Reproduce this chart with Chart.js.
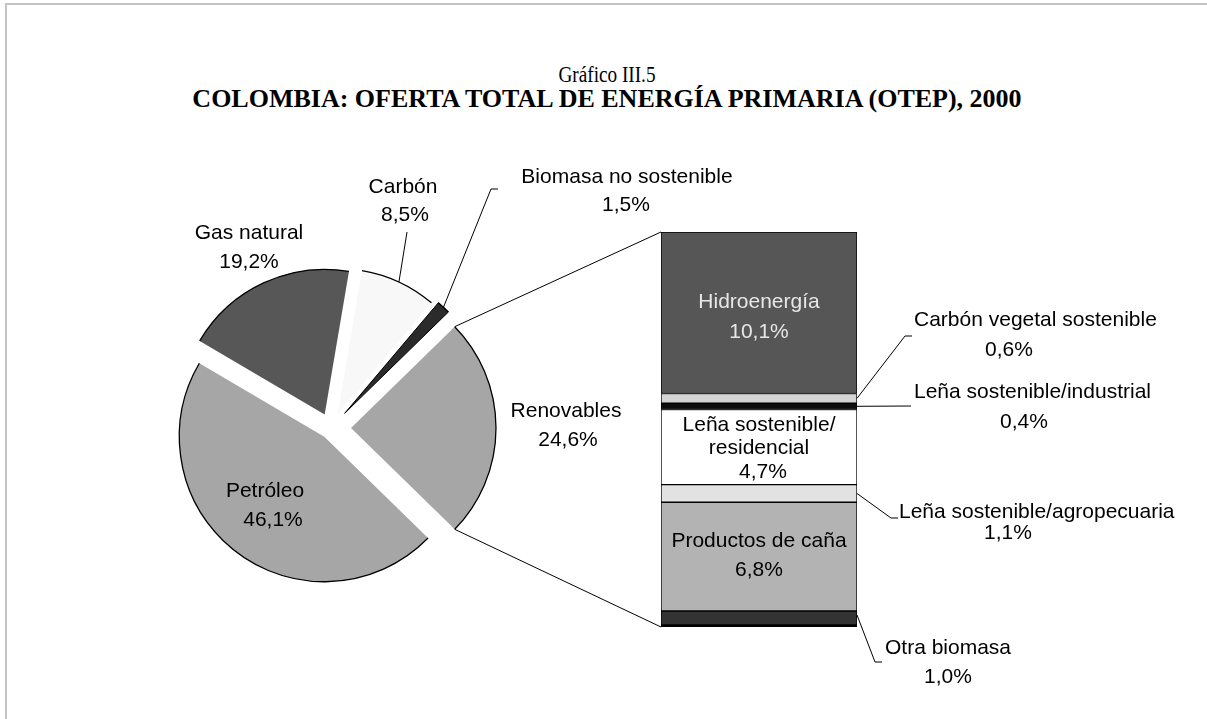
<!DOCTYPE html>
<html lang="es">
<head>
    <meta charset="UTF-8" />
    <title>Gráfico III.5 - Colombia: oferta total de energía primaria, 2000</title>
    <script src="https://cdn.jsdelivr.net/npm/chart.js"></script>
    <style>
        * {
            box-sizing: border-box;
            margin: 0;
            padding: 0;
        }
        body {
            width: 1207px;
            height: 719px;
            overflow: hidden;
            position: relative;
            background: #fff;
            color: #000;
            font-family: "Liberation Serif", "Times New Roman", serif;
        }
        .frame {
            position: absolute;
            left: 5px;
            top: 3px;
            width: 1400px;
            height: 900px;
            border-top: 2px solid #c4c4c4;
            border-left: 2px solid #c4c4c4;
        }
        .title {
            position: absolute;
            left: 0;
            width: 1214px;
            text-align: center;
            white-space: nowrap;
            line-height: 1;
        }
        #t1 { top: 62px; font-size: 24px; transform: scaleX(0.8); }
        #t2 { top: 86px; font-size: 26px; font-weight: bold; }
        canvas {
            position: absolute;
            left: 0;
            top: 0;
        }
    </style>
</head>
<body>
    <div class="frame"></div>
    <div class="title" id="t1">Gráfico III.5</div>
    <div class="title" id="t2">COLOMBIA: OFERTA TOTAL DE ENERGÍA PRIMARIA (OTEP), 2000</div>

    <canvas id="pie" width="1207" height="719"></canvas>
    <canvas id="bar" width="1207" height="719"></canvas>

    <script>
        // oferta total (%), pie slices clockwise starting with the split-out slice
        const pieLabels = ['Renovables', 'Petróleo', 'Gas natural', 'Carbón', 'Biomasa no sostenible'];
        const pieValues = [24.6, 46.1, 19.2, 8.5, 1.5];

        // desglose de renovables (%), top to bottom of the bar
        const renLabels = ['Hidroenergía', 'Carbón vegetal sostenible', 'Leña sostenible/industrial',
            'Leña sostenible/residencial', 'Leña sostenible/agropecuaria', 'Productos de caña', 'Otra biomasa'];
        const renValues = [10.1, 0.6, 0.4, 4.7, 1.1, 6.8, 1.0];

        // styles
        const pieColors = ['#a6a6a6', '#a6a6a6', '#575757', '#f8f8f8', '#2b2b2b'];
        const pieExplode = [20, 11, 15, 16, 20];   // px each slice is pulled out
        const PIE_R = 145;
        const barColors = ['#565656', '#d4d4d4', '#0d0d0d', '#ffffff', '#e2e2e2', '#b3b3b3', '#333333'];
        const FONT = '21px "Liberation Sans", Arial, sans-serif';

        // label placement (name line, value line, optional leader elbow)
        const pieLabelPos = [
            { name: [566, 411], pct: [568, 440] },
            { name: [265, 491], pct: [273, 520] },
            { name: [249, 233], pct: [249, 262] },
            { name: [403, 187], pct: [405, 215], leader: [[407, 232]] },
            { name: [627, 177], pct: [626, 205], leader: [[491, 189], [498, 189]] }
        ];
        const barLabelPos = [
            { lines: [[759, 302], [759, 332]], color: '#e6e6e6' },
            { name: [914, 320], pct: [1009, 350], leader: [[905, 336], [912, 336]] },
            { name: [914, 392], pct: [1024, 422], leader: [[911, 406]] },
            { lines: [[759, 425], [759, 448], [763, 472]], split: ['Leña sostenible/', 'residencial'] },
            { name: [899, 512], pct: [1008, 533], leader: [[891, 518], [898, 518]] },
            { lines: [[759, 541], [759, 570]] },
            { name: [885, 648], pct: [948, 677], leader: [[875, 662], [882, 662]], fromY: 0.75 }
        ];

        const pct = v => v.toFixed(1).replace('.', ',') + '%';

        function text(ctx, s, x, y, align, color) {
            ctx.fillStyle = color || '#000';
            ctx.textAlign = align || 'center';
            ctx.textBaseline = 'middle';
            ctx.fillText(s, x, y);
        }

        function polyline(ctx, pts) {
            ctx.beginPath();
            ctx.moveTo(pts[0][0], pts[0][1]);
            pts.slice(1).forEach(p => ctx.lineTo(p[0], p[1]));
            ctx.stroke();
        }

        // point on the outer edge of an exploded slice
        function slicePoint(el, i, angle) {
            const a0 = el.$a0 ?? el.startAngle, a1 = el.$a1 ?? el.endAngle;
            const mid = (a0 + a1) / 2;
            return [
                el.x + Math.cos(mid) * pieExplode[i] + Math.cos(angle) * PIE_R,
                el.y + Math.sin(mid) * pieExplode[i] + Math.sin(angle) * PIE_R
            ];
        }

        // keep exploded slices at the same radius and angle as the unexploded pie
        const explodeFix = {
            id: 'explodeFix',
            beforeDatasetsDraw(chart) {
                chart.getDatasetMeta(0).data.forEach(el => {
                    if (el.$a0 === undefined) { el.$a0 = el.startAngle; el.$a1 = el.endAngle; }
                    const t = (el.options.offset || 0) / 4;
                    const ro = t * (1 - Math.sin(Math.min(Math.PI, el.circumference)));
                    const d = ro / Math.PI / PIE_R / 2;
                    el.outerRadius = PIE_R - ro;
                    el.startAngle = el.$a0 - d;
                    el.endAngle = el.$a1 + d;
                });
            }
        };

        const pieDecor = {
            id: 'pieDecor',
            afterDatasetsDraw(chart) {
                const ctx = chart.ctx;
                const arcs = chart.getDatasetMeta(0).data;
                ctx.save();
                ctx.strokeStyle = '#000';
                ctx.lineWidth = 1.3;
                arcs.forEach((el, i) => {
                    const mid = (el.$a0 + el.$a1) / 2;
                    ctx.beginPath();
                    ctx.arc(el.x + Math.cos(mid) * pieExplode[i], el.y + Math.sin(mid) * pieExplode[i],
                        PIE_R, el.$a0, el.$a1);
                    ctx.stroke();
                });
                ctx.font = FONT;
                ctx.lineWidth = 1;
                arcs.forEach((el, i) => {
                    const p = pieLabelPos[i];
                    text(ctx, pieLabels[i], p.name[0], p.name[1]);
                    text(ctx, pct(pieValues[i]), p.pct[0], p.pct[1]);
                    if (p.leader) {
                        const tip = slicePoint(el, i, (el.$a0 + el.$a1) / 2);
                        polyline(ctx, [tip].concat(p.leader));
                    }
                });
                ctx.restore();
            }
        };

        const pieTotal = pieValues.reduce((a, b) => a + b, 0);

        const pieChart = new Chart(document.getElementById('pie'), {
            type: 'pie',
            data: {
                labels: pieLabels,
                datasets: [{
                    data: pieValues,
                    backgroundColor: pieColors,
                    borderColor: '#000',
                    borderWidth: [0, 0, 0, 0, 1],
                    offset: pieExplode.map(v => v * 4)
                }]
            },
            options: {
                responsive: false,
                animation: false,
                rotation: 90 - pieValues[0] / pieTotal * 180,
                radius: PIE_R,
                layout: { padding: { left: 131, top: 228, right: 676, bottom: 91 } },
                plugins: { legend: { display: false }, tooltip: { enabled: false } }
            },
            plugins: [explodeFix, pieDecor]
        });

        const barDecor = {
            id: 'barDecor',
            afterDatasetsDraw(chart) {
                const ctx = chart.ctx;
                const area = chart.chartArea;
                ctx.save();
                ctx.strokeStyle = '#000';
                ctx.lineWidth = 1;

                // lines from the Renovables slice to the bar
                const ren = pieChart.getDatasetMeta(0).data[0];
                const a0 = ren.$a0 ?? ren.startAngle, a1 = ren.$a1 ?? ren.endAngle;
                polyline(ctx, [slicePoint(ren, 0, a0), [area.left, area.top]]);
                polyline(ctx, [slicePoint(ren, 0, a1), [area.left, area.bottom]]);

                ctx.font = FONT;
                renLabels.forEach((name, i) => {
                    const el = chart.getDatasetMeta(i).data[0];
                    const p = barLabelPos[i];
                    if (p.lines) {
                        const parts = (p.split || [name]).concat([pct(renValues[i])]);
                        parts.forEach((s, k) => text(ctx, s, p.lines[k][0], p.lines[k][1], 'center', p.color));
                    } else {
                        const f = p.fromY ?? 0.5;
                        const start = [el.x + el.width / 2, el.y + (el.base - el.y) * f];
                        polyline(ctx, [start].concat(p.leader));
                        text(ctx, name, p.name[0], p.name[1], 'left');
                        text(ctx, pct(renValues[i]), p.pct[0], p.pct[1]);
                    }
                });
                ctx.restore();
            }
        };

        new Chart(document.getElementById('bar'), {
            type: 'bar',
            data: {
                labels: ['Renovables'],
                datasets: renLabels.map((name, i) => ({
                    label: name,
                    data: [renValues[i]],
                    backgroundColor: barColors[i],
                    borderColor: '#000',
                    borderWidth: i === renLabels.length - 1 ? { top: 1, left: 1, right: 1, bottom: 3 } : 1,
                    borderSkipped: false,
                    barPercentage: 1,
                    categoryPercentage: 1
                }))
            },
            options: {
                responsive: false,
                animation: false,
                layout: { padding: { left: 661, top: 232, right: 350, bottom: 92 } },
                scales: {
                    x: { display: false, stacked: true },
                    y: { display: false, stacked: true, reverse: true, min: 0, max: renValues.reduce((a, b) => a + b, 0) }
                },
                plugins: { legend: { display: false }, tooltip: { enabled: false } }
            },
            plugins: [barDecor]
        });
    </script>
</body>
</html>
